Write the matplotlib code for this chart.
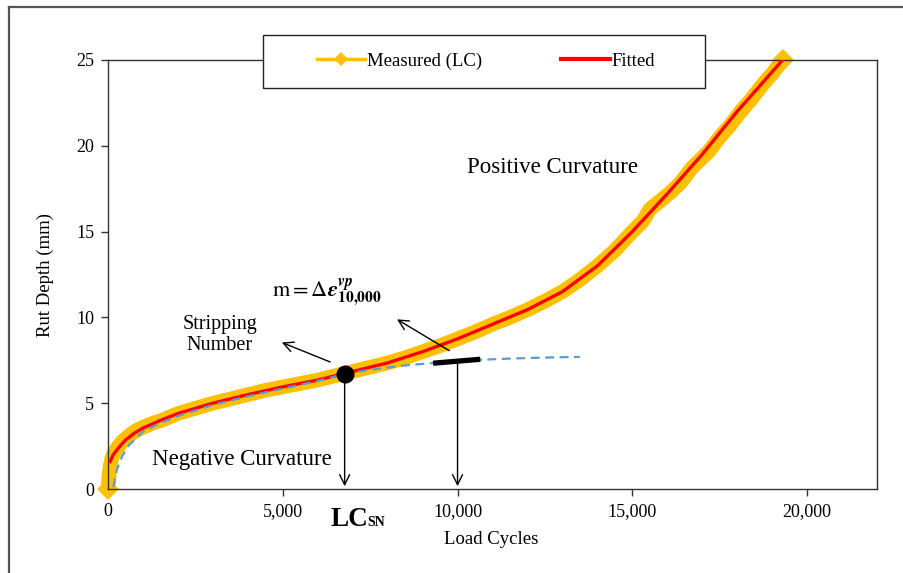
import matplotlib
matplotlib.use("Agg")
import matplotlib.pyplot as plt
from matplotlib.lines import Line2D
from matplotlib.patches import Rectangle
from matplotlib.ticker import FuncFormatter

plt.rcParams['font.family'] = ['Liberation Serif', 'DejaVu Serif']
plt.rcParams['mathtext.fontset'] = 'stix'

# measured rut depth vs load cycles
meas_x = [0, 15, 35, 60, 100, 150, 250, 400, 600, 800, 1000, 1300, 1600, 2000,
          2500, 3000, 3500, 4000, 4500, 5000, 5500, 6000, 6500, 7000, 7500,
          8000, 8500, 9000, 9500, 10000, 10500, 11000, 11500, 12000, 12500,
          13000, 13500, 14000, 14500, 15000, 15300, 15500, 15800, 16100,
          16400, 16700, 16900, 17200, 17500, 17800, 18100, 18400, 18700,
          19000, 19300]
meas_y = [0.0, 0.4, 0.9, 1.3, 1.7, 2.0, 2.35, 2.75, 3.1, 3.4, 3.6, 3.85, 4.05,
          4.4, 4.7, 5.0, 5.25, 5.5, 5.75, 5.95, 6.15, 6.35, 6.6, 6.85, 7.1,
          7.35, 7.65, 8.0, 8.35, 8.75, 9.15, 9.6, 10.0, 10.45, 10.95, 11.5,
          12.2, 13.0, 13.9, 15.0, 15.6, 16.3, 16.8, 17.3, 17.9, 18.7, 19.1,
          19.7, 20.5, 21.2, 22.0, 22.7, 23.5, 24.2, 25.0]

# fitted model
fit_x = [60, 150, 300, 500, 750, 1000, 1500, 2000, 2500, 3000, 4000, 5000,
         6000, 7000, 8000, 9000, 10000, 11000, 12000, 13000, 14000, 15000,
         16000, 17000, 18000, 19300]
fit_y = [1.6, 2.0, 2.4, 2.85, 3.25, 3.55, 4.0, 4.4, 4.7, 5.0, 5.5, 5.95, 6.35,
         6.85, 7.35, 8.0, 8.75, 9.6, 10.45, 11.5, 13.0, 15.0, 17.2, 19.5,
         22.0, 25.0]

# primary/secondary trend (no stripping)
prim_x = [150, 250, 400, 600, 1000, 1500, 2000, 3000, 4000, 5000, 6000, 6770,
          7500, 8500, 9500, 10500, 11500, 12500, 13500]
prim_y = [0.1, 1.1, 1.9, 2.55, 3.35, 3.85, 4.25, 4.9, 5.4, 5.85, 6.3, 6.7,
          6.95, 7.2, 7.38, 7.52, 7.6, 7.66, 7.7]

sn_x, sn_y = 6770, 6.7           # stripping number
tan_x = [9300, 10650]            # slope at 10,000 cycles
tan_y = [7.33, 7.56]
tan_mid = (10000, 7.45)

x_ticks = [0, 5000, 10000, 15000, 20000]
y_ticks = [0, 5, 10, 15, 20, 25]

W, H = 904, 573
fig = plt.figure(figsize=(W / 100, H / 100), dpi=100)

def fx(px):
    return px / W

def fy(py):
    return 1 - py / H

# outer frame
fig.add_artist(Line2D([fx(9), fx(9)], [0, fy(7)], color='#555555', lw=1.6))
fig.add_artist(Line2D([fx(9), 1], [fy(7), fy(7)], color='#555555', lw=1.6))

ax = fig.add_axes([fx(108), fy(489), (877 - 108) / W, (489 - 60) / H])
ax.set_xlim(0, 22000)
ax.set_ylim(0, 25)
for s in ax.spines.values():
    s.set_color('#333333')
    s.set_linewidth(1.0)
ax.set_xticks(x_ticks)
ax.set_yticks(y_ticks)
ax.xaxis.set_major_formatter(FuncFormatter(lambda v, p: f"{int(v):,}"))
ax.tick_params(direction='out', length=5, width=1, color='#333333',
               labelsize=13, pad=5)

ax.plot(meas_x, meas_y, color='#FFC000', lw=10.5, solid_capstyle='round',
        solid_joinstyle='round', marker='D', ms=11, markevery=[0, -1],
        markeredgewidth=0, clip_on=False, zorder=2)
ax.plot(fit_x, fit_y, color='#FF0000', lw=2.4, zorder=3)
ax.plot(prim_x, prim_y, color='#5B9BD5', lw=1.6, dashes=(4, 2.5), zorder=4)
ax.plot(tan_x, tan_y, color='black', lw=3.8, solid_capstyle='butt', zorder=5)
ax.plot([sn_x], [sn_y], 'o', color='black', ms=12, zorder=6)

arrow = dict(arrowstyle='->', color='black', lw=1.0, mutation_scale=18)
ax.annotate('', xy=(sn_x, 0), xytext=(sn_x, sn_y), arrowprops=arrow)
ax.annotate('', xy=(tan_mid[0], 0), xytext=tan_mid, arrowprops=arrow)
ax.annotate('', xy=(4900, 8.6), xytext=(6430, 7.34), arrowprops=arrow)
ax.annotate('', xy=(8200, 9.97), xytext=(9830, 7.98), arrowprops=arrow)

ax.text(12714, 18.76, 'Positive Curvature', fontsize=16.5,
        ha='center', va='center')
ax.text(3829, 1.69, 'Negative Curvature', fontsize=16.5,
        ha='center', va='center')
ax.text(3200, 8.97, 'Stripping\nNumber', fontsize=14.5, ha='center',
        va='center', multialignment='center', linespacing=1.15)
ax.text(4686, 11.4,
        r'$\mathrm{m} = \Delta\mathbfit{\varepsilon}^{\mathbfit{vp}}_{\mathbf{10{,}000}}$',
        fontsize=16, ha='left', va='center')

# axis titles and LC_SN label
fig.text(fx(491), fy(540), 'Load Cycles', fontsize=13.5,
         ha='center', va='center')
fig.text(fx(45), fy(275), 'Rut Depth (mm)', fontsize=13.5, rotation=90,
         ha='center', va='center')
fig.text(fx(331), fy(526), 'LC', fontsize=19.5, fontweight='bold',
         ha='left', va='baseline')
fig.text(fx(367), fy(526), 'SN', fontsize=10, fontweight='bold',
         ha='left', va='baseline')

# legend box overlapping the top of the plot
fig.add_artist(Rectangle((fx(263), fy(88)), (705 - 263) / W, (88 - 35) / H,
                         transform=fig.transFigure, facecolor='white',
                         edgecolor='#222222', lw=1.0, zorder=3))
handles = [Line2D([], [], color='#FFC000', lw=2.5, marker='D', ms=7,
                  markeredgewidth=0),
           Line2D([], [], color='#FF0000', lw=3)]
fig.legend(handles, ['Measured (LC)', 'Fitted'], loc='center',
           bbox_to_anchor=(fx(486), fy(61)), ncol=2, frameon=False,
           fontsize=13.5, handlelength=2.6, handletextpad=0.1,
           columnspacing=4.2)

fig.savefig('out.png', dpi=100)
